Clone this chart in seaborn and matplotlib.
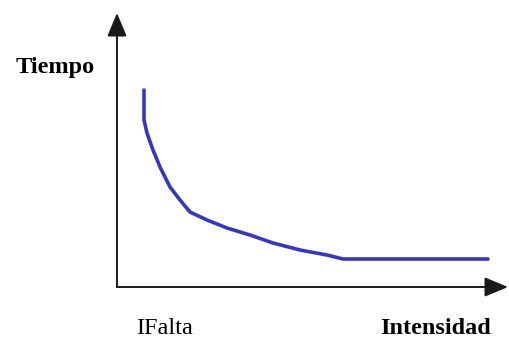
import numpy as np
import matplotlib
matplotlib.use("Agg")
import matplotlib.pyplot as plt
import seaborn as sns
import pandas as pd

# curve (intensity vs time, arbitrary units)
intensidad = [27, 27, 30, 36, 43, 53, 63, 73, 90, 110, 133, 156, 183, 210, 226, 371]
tiempo = [197, 167, 154, 137, 120, 100, 87, 75, 67, 59, 52, 44, 37, 32, 28, 28]

labels_x = ["IFalta", "Intensidad"]
label_y = "Tiempo"

df = pd.DataFrame({"Intensidad": intensidad, "Tiempo": tiempo})

sns.set_style("white")

fig = plt.figure(figsize=(5.09, 3.37), dpi=100)
ax = fig.add_axes([0, 0, 1, 1])

sns.lineplot(
    data=df,
    x="Intensidad",
    y="Tiempo",
    estimator=None,
    sort=False,
    color="#3535c8",
    linewidth=2.6,
    ax=ax
)

ax.set_xlim(-117, 392)
ax.set_ylim(-50, 287)
ax.axis("off")

arrow = dict(
    arrowstyle="-|>,head_length=1.2,head_width=0.5",
    color="#1a1a1a",
    lw=1.4,
    mutation_scale=12,
    shrinkA=0,
    shrinkB=0
)

ax.annotate("", xy=(0, 274), xytext=(0, 0), arrowprops=arrow)
ax.annotate("", xy=(391, 0), xytext=(0, 0), arrowprops=arrow)

ax.text(-62, 220, label_y, family="Liberation Serif", color="black",
        fontsize=17.5, fontweight="bold", ha="center", va="center")
ax.text(48, -41, labels_x[0], family="Liberation Serif", color="black",
        fontsize=17.5, ha="center", va="center")
ax.text(319, -41, labels_x[1], family="Liberation Serif", color="black",
        fontsize=17.5, fontweight="bold", ha="center", va="center")

fig.savefig("out.png", dpi=100)
